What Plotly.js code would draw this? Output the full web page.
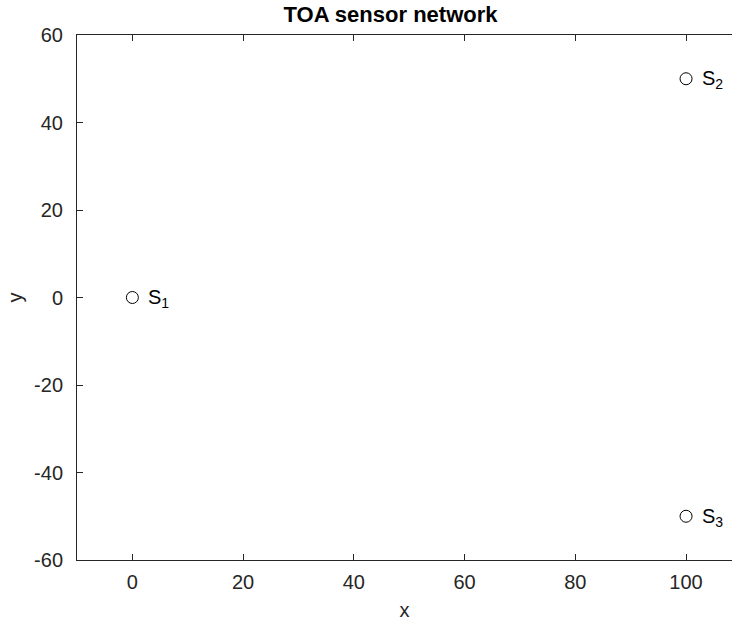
<!DOCTYPE html>
<html>
<head>
<meta charset="utf-8">
<script src="https://cdn.plot.ly/plotly-3.0.1.min.js"></script>
<style>html,body{margin:0;padding:0;background:#fff;}</style>
</head>
<body>
<div id="chart" style="width:732px;height:621px;"></div>
<script>
const sensorX = [0, 100, 100];
const sensorY = [0, 50, -50];
const sensorLabels = ['S<sub>1</sub>', 'S<sub>2</sub>', 'S<sub>3</sub>'];
const xTicks = [0, 20, 40, 60, 80, 100];
const yTicks = [-60, -40, -20, 0, 20, 40, 60];

const FONT = 'Liberation Sans, Arial, Helvetica, sans-serif';
const axisColor = '#262626';

const trace = {
  x: sensorX, y: sensorY, type: 'scatter', mode: 'markers',
  marker: {symbol: 'circle-open', size: 12, color: '#000', line: {width: 1, color: '#000'}},
  hoverinfo: 'skip', showlegend: false
};

const annotations = sensorX.map((x, i) => ({
  x: x, y: sensorY[i], xref: 'x', yref: 'y', text: sensorLabels[i],
  showarrow: false, xanchor: 'left', yanchor: 'middle', xshift: 14, yshift: -1,
  font: {family: FONT, size: 20, color: '#000'}
}));

const layout = {
  width: 732, height: 621,
  margin: {l: 77, r: 0, t: 35, b: 61},
  paper_bgcolor: '#fff', plot_bgcolor: '#fff',
  font: {family: FONT, size: 20, color: '#262626'},
  title: {text: '<b>TOA sensor network</b>', font: {family: FONT, size: 22, color: '#000'},
          x: 0.5335, xanchor: 'center', y: 0.99, yanchor: 'top'},
  xaxis: {
    range: [-10, 108.3], tickvals: xTicks, ticktext: xTicks.map(String),
    showgrid: false, zeroline: false, showline: true, linecolor: axisColor, linewidth: 1,
    mirror: 'ticks', ticks: 'inside', ticklen: 6, tickcolor: axisColor, tickwidth: 1,
    tickfont: {family: FONT, size: 20, color: '#262626'},
    ticklabelstandoff: 4,
    title: {text: 'x', font: {family: FONT, size: 20, color: '#262626'}, standoff: 10}
  },
  yaxis: {
    range: [-60, 60], tickvals: yTicks, ticktext: yTicks.map(String),
    showgrid: false, zeroline: false, showline: true, linecolor: axisColor, linewidth: 1,
    mirror: false, ticks: 'inside', ticklen: 6, tickcolor: axisColor, tickwidth: 1,
    tickfont: {family: FONT, size: 20, color: '#262626'},
    ticklabelstandoff: 9,
    title: {text: 'y', font: {family: FONT, size: 20, color: '#262626'}, standoff: 6}
  },
  annotations: annotations
};

Plotly.newPlot('chart', [trace], layout, {displayModeBar: false, staticPlot: true});
</script>
</body>
</html>
